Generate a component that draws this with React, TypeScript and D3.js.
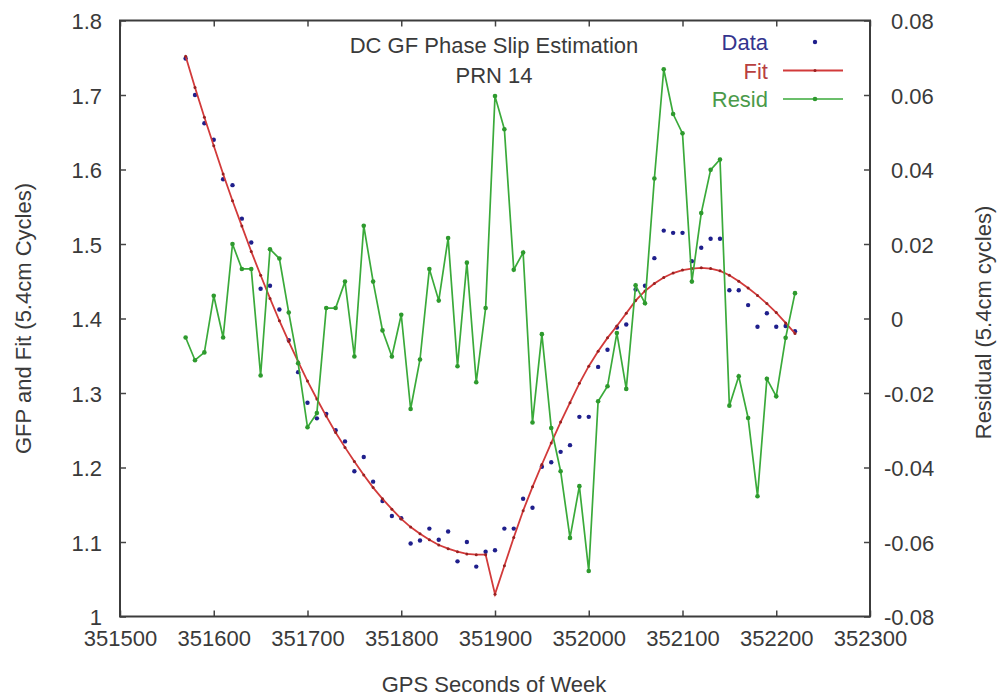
import React, { useEffect, useRef } from "react";
import * as d3 from "d3";

// GPS seconds of week, one sample every 10 s
const seconds = [
  351570, 351580, 351590, 351600, 351610, 351620, 351630, 351640, 351650, 351660,
  351670, 351680, 351690, 351700, 351710, 351720, 351730, 351740, 351750, 351760,
  351770, 351780, 351790, 351800, 351810, 351820, 351830, 351840, 351850, 351860,
  351870, 351880, 351890, 351900, 351910, 351920, 351930, 351940, 351950, 351960,
  351970, 351980, 351990, 352000, 352010, 352020, 352030, 352040, 352050, 352060,
  352070, 352080, 352090, 352100, 352110, 352120, 352130, 352140, 352150, 352160,
  352170, 352180, 352190, 352200, 352210, 352220
];

const gfpData = [
  1.749, 1.700, 1.662, 1.640, 1.587, 1.579, 1.534, 1.502, 1.440, 1.444,
  1.412, 1.371, 1.328, 1.287, 1.266, 1.272, 1.250, 1.235, 1.195, 1.214,
  1.181, 1.155, 1.135, 1.132, 1.098, 1.102, 1.118, 1.103, 1.114, 1.074,
  1.100, 1.067, 1.087, 1.089, 1.118, 1.118, 1.158, 1.146, 1.201, 1.207,
  1.221, 1.230, 1.268, 1.268, 1.335, 1.358, 1.388, 1.392, 1.439, 1.444,
  1.481, 1.518, 1.515, 1.515, 1.477, 1.495, 1.507, 1.507, 1.438, 1.438,
  1.418, 1.389, 1.407, 1.389, 1.390, 1.383
];

const fitValues = [
  1.752, 1.710, 1.670, 1.632, 1.594, 1.558, 1.524, 1.490, 1.458, 1.427,
  1.397, 1.369, 1.342, 1.316, 1.292, 1.269, 1.247, 1.227, 1.208, 1.190,
  1.173, 1.158, 1.144, 1.131, 1.120, 1.111, 1.103, 1.096, 1.091, 1.087,
  1.084, 1.083, 1.083, 1.030, 1.068, 1.106, 1.142, 1.174, 1.204, 1.233,
  1.261, 1.287, 1.313, 1.336, 1.356, 1.374, 1.390, 1.407, 1.424, 1.437,
  1.447, 1.455, 1.461, 1.465, 1.467, 1.468, 1.467, 1.464, 1.458, 1.450,
  1.441, 1.431, 1.420, 1.408, 1.394, 1.380
];

const residValues = [
  -0.0051, -0.0112, -0.0091, 0.0061, -0.0051, 0.0200, 0.0133, 0.0133, -0.0153, 0.0186,
  0.0161, 0.0016, -0.0120, -0.0292, -0.0254, 0.0028, 0.0028, 0.0099, -0.0102, 0.0249,
  0.0099, -0.0032, -0.0102, 0.0010, -0.0243, -0.0110, 0.0133, 0.0048, 0.0216, -0.0128,
  0.0150, -0.0171, 0.0028, 0.0597, 0.0508, 0.0131, 0.0177, -0.0279, -0.0042, -0.0294,
  -0.0410, -0.0589, -0.0450, -0.0678, -0.0222, -0.0182, -0.0039, -0.0189, 0.0089, 0.0041,
  0.0376, 0.0669, 0.0549, 0.0497, 0.0099, 0.0283, 0.0399, 0.0427, -0.0234, -0.0155,
  -0.0267, -0.0477, -0.0162, -0.0209, -0.0052, 0.0068
];

const xTicks = [351500, 351600, 351700, 351800, 351900, 352000, 352100, 352200, 352300];
const leftTicks = [1, 1.1, 1.2, 1.3, 1.4, 1.5, 1.6, 1.7, 1.8];
const rightTicks = [-0.08, -0.06, -0.04, -0.02, 0, 0.02, 0.04, 0.06, 0.08];

const W = 998;
const H = 698;
const FONT = "'Liberation Sans', Arial, sans-serif";
const TXT = "#3a3a3a";
const BLUE = "#1f1f8c";
const RED = "#d23a3a";
const GREEN = "#3aaa3a";

export default function App() {
  const ref = useRef<SVGSVGElement | null>(null);

  useEffect(() => {
    const svg = d3.select(ref.current);
    svg.selectAll("*").remove();

    const left = 120, right = 870, top = 20.5, bottom = 616.5;

    const x = d3.scaleLinear().domain([351500, 352300]).range([left, right]);
    const yL = d3.scaleLinear().domain([1, 1.8]).range([bottom, top]);
    const yR = d3.scaleLinear().domain([-0.08, 0.08]).range([bottom, top]);

    svg.append("rect").attr("width", W).attr("height", H).attr("fill", "#fff");

    const g = svg.append("g").style("font-family", FONT).style("font-size", "22px");

    // plain hyphen minus, like the original plot
    const plain = (d: any) => String(+(+d).toFixed(2));

    // axes (ticks point inward)
    const bottomAxis = g.append("g")
      .attr("transform", `translate(0,${bottom})`)
      .call(d3.axisBottom(x).tickValues(xTicks).tickSize(-6).tickPadding(14).tickFormat(plain));
    const topAxis = g.append("g")
      .attr("transform", `translate(0,${top})`)
      .call(d3.axisTop(x).tickValues(xTicks).tickSize(-6).tickFormat(() => ""));
    const leftAxis = g.append("g")
      .attr("transform", `translate(${left},0)`)
      .call(d3.axisLeft(yL).tickValues(leftTicks).tickSize(-6).tickPadding(18).tickFormat(plain));
    const rightAxis = g.append("g")
      .attr("transform", `translate(${right},0)`)
      .call(d3.axisRight(yR).tickValues(rightTicks).tickSize(-6).tickPadding(21).tickFormat(plain));

    [bottomAxis, topAxis, leftAxis, rightAxis].forEach((a) => {
      a.select(".domain").remove();
      a.selectAll("line").attr("stroke", "#444").attr("stroke-width", 1.5);
      a.selectAll("text").attr("fill", TXT).style("font-family", FONT).style("font-size", "22px");
    });
    bottomAxis.selectAll("text").attr("dy", "0.71em");
    leftAxis.selectAll("text").attr("dy", "0.38em");
    rightAxis.selectAll("text")
      .attr("dy", "0.38em")
      .attr("x", (d: any) => (d < 0 ? 14 : 21));

    // frame
    g.append("rect")
      .attr("x", left).attr("y", top)
      .attr("width", right - left).attr("height", bottom - top)
      .attr("fill", "none").attr("stroke", "#3c3c3c").attr("stroke-width", 2);

    // axis titles
    g.append("text")
      .attr("x", 494).attr("y", 692)
      .attr("text-anchor", "middle").attr("fill", TXT)
      .text("GPS Seconds of Week");
    g.append("text")
      .attr("transform", `translate(31,${(top + bottom) / 2}) rotate(-90)`)
      .attr("text-anchor", "middle").attr("fill", TXT)
      .text("GFP and Fit (5.4cm Cycles)");
    g.append("text")
      .attr("transform", `translate(991,${(top + bottom) / 2 + 4}) rotate(-90)`)
      .attr("text-anchor", "middle").attr("fill", TXT)
      .text("Residual (5.4cm cycles)");

    // title
    g.append("text")
      .attr("x", 494).attr("y", 53)
      .attr("text-anchor", "middle").attr("fill", TXT)
      .text("DC GF Phase Slip Estimation");
    g.append("text")
      .attr("x", 494).attr("y", 83)
      .attr("text-anchor", "middle").attr("fill", TXT)
      .text("PRN 14");

    const idx = d3.range(seconds.length);

    // data points
    g.append("g")
      .selectAll("circle")
      .data(idx)
      .join("circle")
      .attr("cx", (i) => x(seconds[i]))
      .attr("cy", (i) => yL(gfpData[i]))
      .attr("r", 2.2)
      .attr("fill", BLUE);

    // fit line
    const fitLine = d3.line<number>().x((i) => x(seconds[i])).y((i) => yL(fitValues[i]));
    g.append("path").attr("d", fitLine(idx)).attr("fill", "none")
      .attr("stroke", RED).attr("stroke-width", 1.8);
    g.append("g")
      .selectAll("circle")
      .data(idx)
      .join("circle")
      .attr("cx", (i) => x(seconds[i]))
      .attr("cy", (i) => yL(fitValues[i]))
      .attr("r", 1.5)
      .attr("fill", "#9a2020");

    // residual line
    const residLine = d3.line<number>().x((i) => x(seconds[i])).y((i) => yR(residValues[i]));
    g.append("path").attr("d", residLine(idx)).attr("fill", "none")
      .attr("stroke", GREEN).attr("stroke-width", 1.7);
    g.append("g")
      .selectAll("circle")
      .data(idx)
      .join("circle")
      .attr("cx", (i) => x(seconds[i]))
      .attr("cy", (i) => yR(residValues[i]))
      .attr("r", 2.3)
      .attr("fill", "#2e9a2e");

    // legend
    const legend = [
      { label: "Data", color: "#34348e", y: 50 },
      { label: "Fit", color: "#b84040", y: 78.5 },
      { label: "Resid", color: "#4a9a4a", y: 107 }
    ];
    legend.forEach((l) => {
      g.append("text")
        .attr("x", 768).attr("y", l.y)
        .attr("text-anchor", "end").attr("fill", l.color)
        .text(l.label);
    });
    g.append("circle").attr("cx", 815).attr("cy", 42).attr("r", 2.2).attr("fill", BLUE);
    g.append("line").attr("x1", 783).attr("x2", 843).attr("y1", 70.5).attr("y2", 70.5)
      .attr("stroke", RED).attr("stroke-width", 1.8);
    g.append("circle").attr("cx", 815).attr("cy", 70.5).attr("r", 1.5).attr("fill", "#9a2020");
    g.append("line").attr("x1", 783).attr("x2", 843).attr("y1", 99).attr("y2", 99)
      .attr("stroke", GREEN).attr("stroke-width", 1.7);
    g.append("circle").attr("cx", 815).attr("cy", 99).attr("r", 2.3).attr("fill", "#2e9a2e");
  }, []);

  return (
    <svg
      ref={ref}
      width={W}
      height={H}
      style={{ position: "absolute", left: 0, top: 0, display: "block" }}
    />
  );
}
